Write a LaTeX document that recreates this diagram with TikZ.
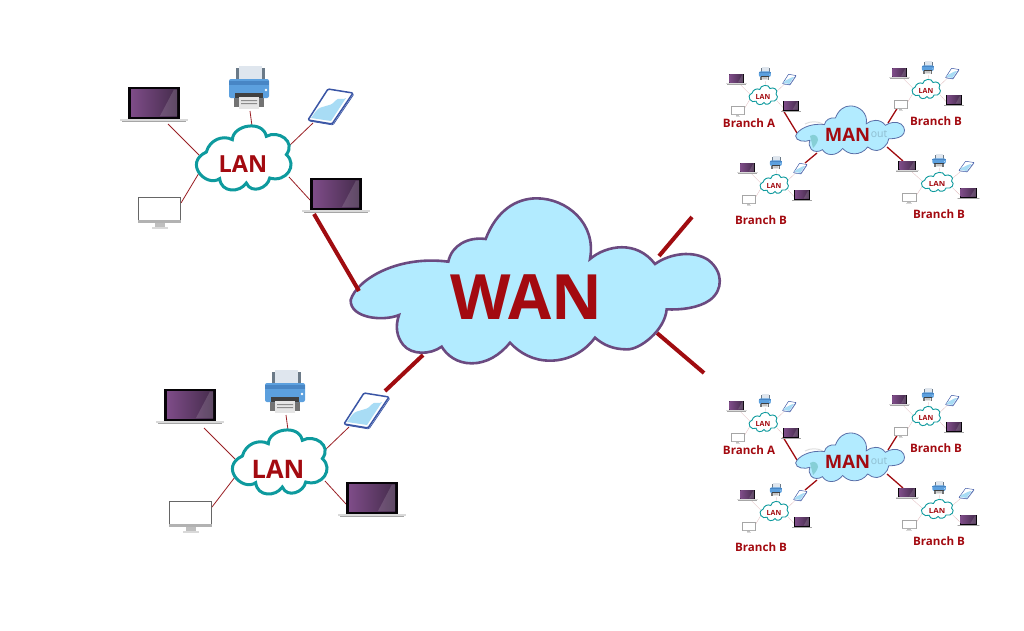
\documentclass[tikz,border=0pt]{standalone}
\usepackage{fontspec}
\setmainfont{Open Sans}
\definecolor{lblred}{HTML}{A30A10}
\definecolor{teal1}{HTML}{0E9A9E}
\definecolor{skyfill}{HTML}{B2EBFF}
\definecolor{cloudedge}{HTML}{6B4A80}
\definecolor{manedge}{HTML}{5A6FA8}
\definecolor{linkred}{HTML}{A00C10}
\definecolor{thinred}{HTML}{9A2025}
\definecolor{purpL}{HTML}{7E4C88}
\definecolor{purpR}{HTML}{452C4C}
\definecolor{phoneblue}{HTML}{3A55A5}
\definecolor{prbody}{HTML}{5CA0DE}
\definecolor{prtop}{HTML}{4886C5}
\definecolor{prpaper}{HTML}{DFE6EE}
\definecolor{prframe}{HTML}{6B7A88}
\definecolor{phscreen}{HTML}{A8DCF5}
\definecolor{wmark}{HTML}{8FBDD0}
\definecolor{wblob}{HTML}{86CFD6}
\tikzset{
  thicklink/.style={draw=linkred,line width=4pt},
  lbl/.style={text=lblred,font=\bfseries,inner sep=0pt},
  branchlbl/.style={lbl,font=\fontsize{11.6}{12}\selectfont\bfseries},
}
% defaults for a LAN group, changed per group
\def\linkop{1}\def\monk{60}\def\monlw{1pt}\def\groupxs{1}\def\lapAdy{0}\def\lanfs{23.5}\def\lanx{0}\def\lany{6.5}
% local cloud outlines
\newcommand{\bigcloudpath}{(32,330) .. controls (50,270) and (170,195) .. (325,215)
  .. controls (335,165) and (385,140) .. (437,147)
  .. controls (470,60) and (530,25) .. (590,25)
  .. controls (680,25) and (770,100) .. (750,207)
  .. controls (800,165) and (890,150) .. (945,222)
  .. controls (990,190) and (1060,180) .. (1105,210)
  .. controls (1150,245) and (1150,300) .. (1110,330)
  .. controls (1075,355) and (1020,360) .. (980,358)
  .. controls (975,420) and (900,480) .. (860,478)
  .. controls (820,478) and (790,465) .. (765,443)
  .. controls (730,490) and (680,512) .. (630,512)
  .. controls (580,512) and (540,490) .. (510,458)
  .. controls (480,495) and (440,520) .. (395,520)
  .. controls (350,520) and (320,495) .. (305,470)
  .. controls (270,495) and (215,495) .. (190,465)
  .. controls (170,440) and (165,410) .. (177,375)
  .. controls (130,395) and (30,385) .. (32,330) -- cycle}
\newcommand{\lancloudpath}{(-110,-18) .. controls (-100,-55) and (-60,-70) .. (-32,-55)
  .. controls (-30,-100) and (60,-115) .. (70,-65)
  .. controls (105,-85) and (160,-50) .. (130,-10)
  .. controls (165,20) and (130,75) .. (80,60)
  .. controls (75,90) and (25,110) .. (10,75)
  .. controls (-10,105) and (-65,105) .. (-70,62)
  .. controls (-110,90) and (-180,15) .. (-110,-18) -- cycle}
\newcommand{\laptopshape}[2]{\begin{scope}[shift={(#1,#2)}]
  \fill[black!90!purpR] (-26,-17.5) rectangle (26,15);
  \shade[left color=purpL,right color=purpR] (-23,-14.5) rectangle (23,12);
  \fill[white,opacity=.14] (6,12) -- (20,-14.5) -- (23,-14.5) -- (23,12) -- cycle;
  \fill[black!15] (-34,15) rectangle (34,17);
  \fill[black!35] (-32,17) rectangle (32,18);
\end{scope}}
\newcommand{\printershape}[2]{\begin{scope}[shift={(#1,#2)}]
  \fill[prframe] (-13,-20) rectangle (16,-7);
  \fill[prpaper] (-10,-22) rectangle (13,-7);
  \fill[black!55] (-15,5) rectangle (15,19);
  \fill[prbody,rounded corners=2pt] (-20,-9) rectangle (20,10);
  \fill[prtop] (-20,-7) rectangle (20,-3);
  \fill[black!75] (-14,5) rectangle (14,10);
  \fill[black!10] (-10,9) rectangle (10,21);
  \fill[black!45] (-8,12) rectangle (8,13) (-8,15) rectangle (8,16);
  \fill[white] (17,2) circle (1.3);
\end{scope}}
\newcommand{\phoneshape}[3]{\begin{scope}[shift={(#1,#2)}]
  \filldraw[fill=white,draw=phoneblue,line width=.7pt*#3,rounded corners=1.2pt*#3] (-1,-16) -- (24,-12) -- (3,19) -- (-21,15) -- cycle;
  \filldraw[fill=white,draw=phoneblue,line width=1.5pt*#3,rounded corners=1.2pt*#3] (-2,-17) -- (23,-13) -- (2,18) -- (-22,14) -- cycle;
  \fill[phscreen] (-14,5) .. controls (-8,-2) and (0,2) .. (5,-5) .. controls (9,-10) and (13,-5) .. (16,-8) -- (1,15) -- (-19,12) -- cycle;
\end{scope}}
\newcommand{\monitorshape}[2]{\begin{scope}[shift={(#1,#2)}]
  \filldraw[fill=white,draw=black!\monk,line width=\monlw] (-21,-12.5) rectangle (21,11);
  \fill[black!30] (-21.5,10) rectangle (21.5,13);
  \fill[black!25] (-5,13) rectangle (5,17);
  \fill[black!15] (-8,17) rectangle (8,19);
\end{scope}}
% one LAN with its five devices
\newcommand{\langroup}[5]{\begin{scope}[shift={(#2,#3)},scale=#4,xscale=\groupxs]
  \coordinate (#1-a1) at (-75,-34); \coordinate (#1-a2) at (-44,-3);
  \coordinate (#1-p1) at (7,-47);   \coordinate (#1-p2) at (9,-32);
  \coordinate (#1-f1) at (70,-35);  \coordinate (#1-f2) at (45,-11);
  \coordinate (#1-b1) at (67,42);   \coordinate (#1-b2) at (46,19);
  \coordinate (#1-m1) at (-62+#5,45); \coordinate (#1-m2) at (-44,15);
  \draw[thinred,line width=.8pt*#4,opacity=\linkop] (#1-a1) -- (#1-a2) (#1-p1) -- (#1-p2) (#1-f1) -- (#1-f2) (#1-b1) -- (#1-b2) (#1-m1) -- (#1-m2);
  \laptopshape{-89}{-54+\lapAdy}
  \printershape{6}{-70}
  \phoneshape{87}{-52}{#4}
  \laptopshape{93}{37}
  \monitorshape{-83.5+#5}{52}
  \begin{scope}[scale=1/3]
    \filldraw[fill=white,draw=teal1,line width=3pt*#4] \lancloudpath;
  \end{scope}
  \node[lbl,transform shape,font=\fontsize{\lanfs}{\lanfs}\selectfont\bfseries] (#1-lan) at (\lanx,\lany) {LAN};
\end{scope}}
% a MAN with its four branches; #2 is the vertical offset
\newcommand{\mangroup}[2]{\begin{scope}[shift={(0,#2)}]
  \coordinate (#1-ta) at (783,110); \coordinate (#1-tb) at (898,107);
  \coordinate (#1-tc) at (817,153); \coordinate (#1-td) at (903,161);
  \coordinate (#1-ca) at (797,133); \coordinate (#1-cb) at (888,123);
  \coordinate (#1-cc) at (805,163); \coordinate (#1-cd) at (887,147);
  \draw[thicklink,line width=1.3pt] (#1-ta) -- (#1-ca) (#1-tb) -- (#1-cb) (#1-cc) -- (#1-tc) (#1-td) -- (#1-cd);
  \def\linkop{.35}\def\monk{35}\def\monlw{.8pt}\def\lapAdy{0}\def\lanfs{23.5}\def\lanx{0}\def\lany{6.5}
  \langroup{#1-g1}{763}{95}{.3}{0}
  \langroup{#1-g2}{926}{89}{.3}{0}
  \langroup{#1-g3}{774}{184}{.3}{0}
  \def\groupxs{1.12}
  \langroup{#1-g4}{937}{182}{.3}{0}
  \begin{scope}[shift={(850,130)},scale=.295/3,shift={(-585,-270)}]
    \filldraw[fill=skyfill,draw=manedge,line width=.8pt] \bigcloudpath;
  \end{scope}
  \draw[black!25,line width=1pt,opacity=.5] (805,124) .. controls (810,121) and (818,121) .. (823,124);
  \fill[wblob] (810,136) .. controls (814,133) and (818,136) .. (818,140) .. controls (817,144) and (814,147) .. (813,148) .. controls (812,144) and (811,140) .. (810,136) -- cycle;
  \node[inner sep=0pt,text=wmark,font=\fontsize{10.5}{11}\selectfont] (#1-out) at (879,134) {out};
  \node[lbl,font=\fontsize{18.5}{19}\selectfont\bfseries] (#1-man) at (847.5,135) {MAN};
  \node[branchlbl] (#1-la) at (749,123) {Branch A};
  \node[branchlbl] (#1-lb) at (936,121) {Branch B};
  \node[branchlbl] (#1-lc) at (761,220) {Branch B};
  \node[branchlbl] (#1-ld) at (939,214) {Branch B};
\end{scope}}
\begin{document}
\begin{tikzpicture}[x=1pt,y=-1pt]
\useasboundingbox (0,0) rectangle (1024,630);
\fill[white] (0,0) rectangle (1024,630);
% WAN uplinks
\coordinate (w1) at (314,214); \coordinate (c1) at (359,291);
\coordinate (w2) at (385,391); \coordinate (c2) at (423,355);
\coordinate (w3) at (692,217); \coordinate (c3) at (659,256);
\coordinate (w4) at (704,373); \coordinate (c4) at (657,333);
\langroup{lana}{243}{158}{1}{0}
\begingroup
\def\lapAdy{-2}\def\lanfs{25.5}\def\lanx{-1}\def\lany{7}
\langroup{lanb}{279}{462}{1}{-5}
\endgroup
\draw[thicklink] (w2) -- (c2) (w3) -- (c3) (w4) -- (c4);
\begin{scope}[shift={(340,190)},scale=1/3]
  \filldraw[fill=skyfill,draw=cloudedge,line width=2.6pt] \bigcloudpath;
\end{scope}
\draw[thicklink] (w1) -- (c1);
\node[lbl,font=\fontsize{62.5}{63}\selectfont\bfseries] (wan) at (526,297) {WAN};
\mangroup{mana}{0}
\mangroup{manb}{327}
\end{tikzpicture}
\end{document}
